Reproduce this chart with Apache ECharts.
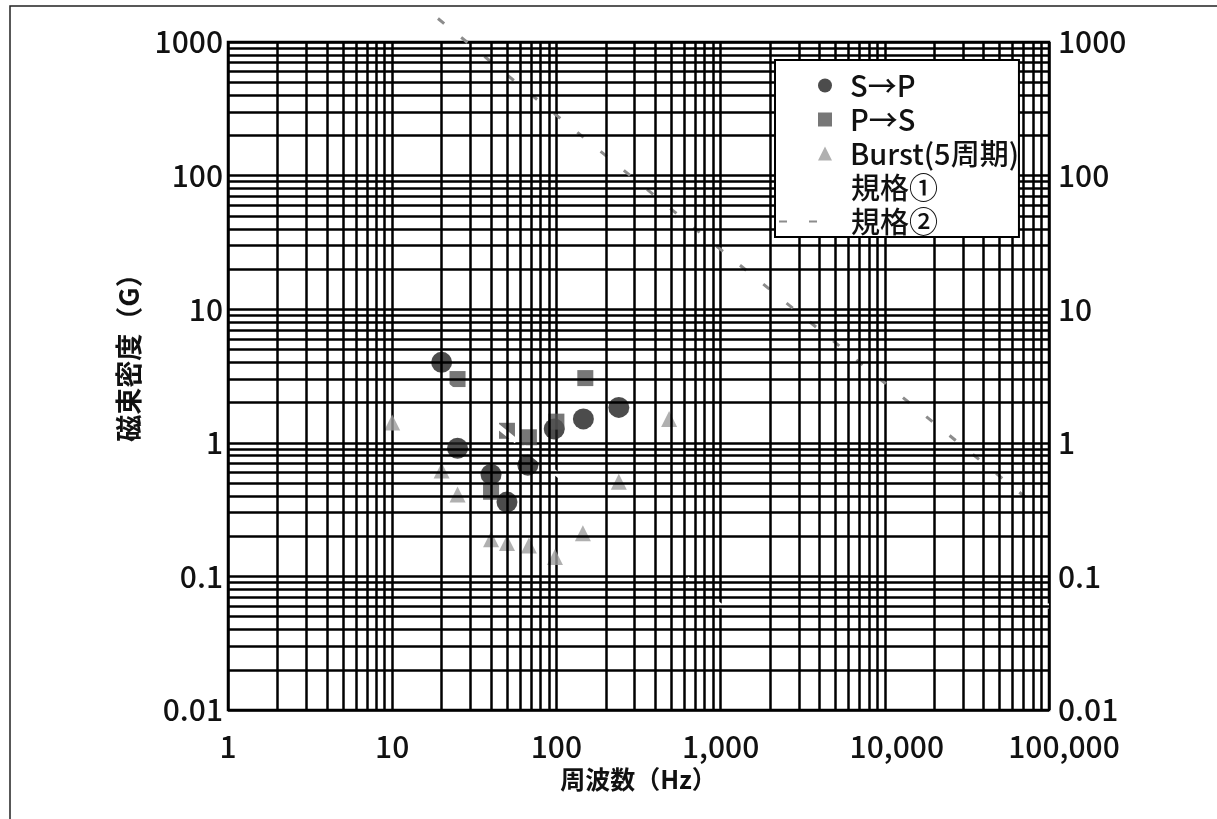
<!DOCTYPE html>
<html>
<head>
<meta charset="utf-8">
<script src="https://cdn.jsdelivr.net/npm/echarts@6/dist/echarts.min.js"></script>
<style>
html,body{margin:0;padding:0;background:#fff;}
#c{width:1217px;height:819px;}
</style>
</head>
<body>
<div id="c"></div>
<script>
// ---- data ----
const xTickLabels = ['1', '10', '100', '1,000', '10,000', '100,000'];
const yTickLabels = ['0.01', '0.1', '1', '10', '100', '1000'];

const spFreq = [20, 25, 40, 50, 67, 97, 146, 240];
const spVal  = [4.0, 0.91, 0.58, 0.36, 0.68, 1.27, 1.51, 1.84];

const psFreq = [25, 40, 50, 68, 100, 150];
const psVal  = [3.0, 0.43, 1.23, 1.1, 1.44, 3.05];

const burstFreq = [10, 20, 25, 40, 50, 68, 98, 145, 240, 486];
const burstVal  = [1.42, 0.62, 0.41, 0.19, 0.178, 0.17, 0.14, 0.21, 0.51, 1.51];

const spec1Freq = [20, 1000, 100000];
const spec1Val  = [2.9, 0.06, 0.06];

const spec2Freq = [19, 1000, 88000];
const spec2Val  = [1500, 28, 0.32];

const seriesNames = ['S→P', 'P→S', 'Burst(5周期)', '規格①', '規格②'];

// minor grid positions (2..9 of each decade)
const minorMultipliers = [2, 3, 4, 5, 6, 7, 8, 9];
const xDecades = [1, 10, 100, 1000, 10000];
const yDecades = [0.01, 0.1, 1, 10, 100];

const zip = (a, b) => a.map((v, i) => [v, b[i]]);
const xMinor = [];
xDecades.forEach(d => minorMultipliers.forEach(m => xMinor.push(+(d * m).toPrecision(6))));
const yMinor = [];
yDecades.forEach(d => minorMultipliers.forEach(m => yMinor.push(+(d * m).toPrecision(6))));

const FONT = '"Noto Sans CJK JP", "Noto Sans", sans-serif';
const xRichKeys = ['n', 'n', 'n', 'n', 's1', 's2'];
const lblX = v => {
  const i = Math.round(Math.log10(v));
  const t = xTickLabels[i];
  return t === undefined ? '' : '{' + xRichKeys[i] + '|' + t + '}';
};
const lblY = v => yTickLabels[Math.round(Math.log10(v)) + 2] ?? '';

const GRID_W = 2.5;
const tickFont = {fontSize: 30, color: '#111', fontFamily: FONT, fontWeight: 500};

const chart = echarts.init(document.getElementById('c'), null, {renderer: 'canvas'});

const yAxisBase = {
  type: 'log', logBase: 10, min: 0.01, max: 1000,
  axisLine: {show: false}, axisTick: {show: false},
  minorTick: {show: false}, minorSplitLine: {show: false}
};

chart.setOption({
  animation: false,
  backgroundColor: '#fff',
  textStyle: {fontFamily: FONT},
  grid: {left: 228, right: 168, top: 42, bottom: 109, show: true,
         borderColor: '#000', borderWidth: GRID_W, backgroundColor: 'transparent'},
  xAxis: {
    type: 'log', logBase: 10, min: 1, max: 100000,
    axisLine: {show: false}, axisTick: {show: false},
    axisLabel: Object.assign({formatter: lblX, margin: 22,
      rich: {
        n: Object.assign({}, tickFont),
        s1: Object.assign({padding: [0, 0, 0, 24]}, tickFont),
        s2: Object.assign({padding: [0, 0, 0, 30]}, tickFont)
      }}, tickFont),
    splitLine: {show: true, lineStyle: {color: '#000', width: GRID_W}},
    name: '周波数（Hz）', nameLocation: 'middle', nameGap: 50,
    nameTextStyle: {fontSize: 25, fontWeight: 'bold', color: '#111', fontFamily: FONT}
  },
  yAxis: [
    Object.assign({}, yAxisBase, {
      position: 'left',
      axisLabel: Object.assign({formatter: lblY, margin: 5}, tickFont),
      splitLine: {show: true, lineStyle: {color: '#000', width: GRID_W}},
      name: '磁束密度（G）', nameLocation: 'middle', nameGap: 86,
      nameTextStyle: {fontSize: 27, fontWeight: 'bold', color: '#111', fontFamily: FONT, padding: [0, 0, 0, 50]}
    }),
    Object.assign({}, yAxisBase, {
      position: 'right',
      axisLabel: Object.assign({formatter: lblY, margin: 9}, tickFont),
      splitLine: {show: false}
    })
  ],
  legend: [
    {
      data: seriesNames.slice(0, 3), orient: 'vertical', left: 775, top: 60,
      itemWidth: 14, itemHeight: 14, itemGap: 5, padding: [11, 0, 69, 43], selectedMode: false,
      backgroundColor: '#fff', borderColor: '#000', borderWidth: 2, zlevel: 1, z: 4,
      textStyle: {fontSize: 29, lineHeight: 29, color: '#111', fontFamily: FONT, fontWeight: 500, padding: [0, 0, 0, 13]}
    },
    {
      data: seriesNames.slice(3).map(n => ({name: n, itemStyle: {opacity: 0}})),
      orient: 'vertical', left: 778, top: 173, zlevel: 1, z: 8,
      itemWidth: 50, itemHeight: 14, itemGap: 5, padding: 0, selectedMode: false,
      textStyle: {fontSize: 29, lineHeight: 29, color: '#111', fontFamily: FONT, fontWeight: 500, padding: [0, 0, 0, 17]}
    }
  ],
  graphic: [
    {type: 'rect', z: 0, silent: true,
     shape: {x: 10, y: 6, width: 1230, height: 840},
     style: {fill: 'none', stroke: '#222', lineWidth: 1.5}}
  ],
  series: [
    {
      name: 'gridMinor', type: 'line', data: [], z: 1, silent: true,
      markLine: {
        silent: true, symbol: ['none', 'none'], label: {show: false},
        lineStyle: {color: '#000', width: GRID_W, type: 'solid'},
        emphasis: {disabled: true},
        data: xMinor.map(v => ({xAxis: v})).concat(yMinor.map(v => ({yAxis: v})))
      }
    },
    {
      name: seriesNames[0], type: 'scatter', data: zip(spFreq, spVal),
      symbol: 'circle', symbolSize: 21, z: 3,
      itemStyle: {color: '#1f1f1f'}
    },
    {
      name: seriesNames[1], type: 'scatter', data: zip(psFreq, psVal),
      symbol: 'rect', symbolSize: 16, z: 3,
      itemStyle: {color: '#555555'}
    },
    {
      name: seriesNames[2], type: 'scatter', data: zip(burstFreq, burstVal),
      symbol: 'triangle', symbolSize: 16, z: 3,
      itemStyle: {color: '#9c9c9c'}
    },
    {
      name: seriesNames[3], type: 'line', data: zip(spec1Freq, spec1Val),
      symbol: 'none', z: 4,
      lineStyle: {color: '#fff', width: 5, type: [26, 9]},
      itemStyle: {color: '#fff'}
    },
    {
      name: seriesNames[4], type: 'line', data: zip(spec2Freq, spec2Val),
      symbol: 'none', z: 4, clip: false,
      lineStyle: {color: '#8c8c8c', width: 3, type: [8, 22]},
      itemStyle: {color: '#8c8c8c'}
    }
  ]
});
</script>
</body>
</html>
